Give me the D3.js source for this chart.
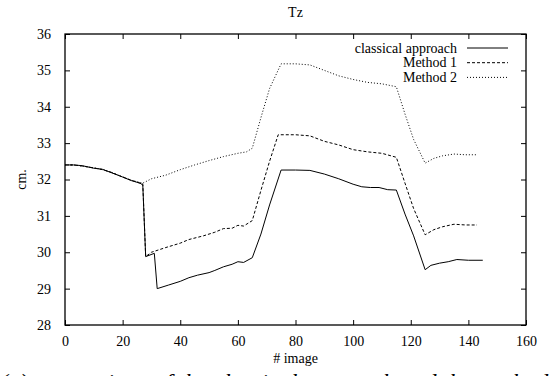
<!DOCTYPE html>
<html>
<head>
<meta charset="utf-8">
<script src="https://cdn.jsdelivr.net/npm/d3@7"></script>
<style>
  body { margin: 0; background: #fff; }
  text { font-family: "Liberation Serif", "Times New Roman", serif; }
</style>
</head>
<body>
<div id="chart"></div>
<script>
// values
var classicalX = [0, 3, 6, 10, 13, 16, 19, 23, 26, 27, 28, 31, 32, 36, 40, 43, 46, 50, 52, 55, 58, 60, 62, 65, 68, 71, 75, 80, 85, 90, 95, 100, 103, 106, 109, 112, 115, 118, 121, 125, 127, 130, 133, 136, 140, 145];
var classicalY = [32.4, 32.4, 32.38, 32.31, 32.28, 32.19, 32.1, 31.97, 31.9, 31.85, 29.88, 29.97, 29.0, 29.1, 29.2, 29.3, 29.37, 29.44, 29.5, 29.6, 29.67, 29.74, 29.72, 29.85, 30.5, 31.3, 32.26, 32.26, 32.25, 32.15, 32.02, 31.87, 31.8, 31.78, 31.78, 31.72, 31.71, 31.05, 30.45, 29.52, 29.64, 29.7, 29.74, 29.8, 29.78, 29.78];

var method1X = [0, 3, 6, 10, 13, 16, 19, 23, 26, 27, 28, 30, 35, 40, 43, 48, 52, 55, 58, 60, 62, 65, 68, 71, 74, 80, 85, 90, 95, 100, 105, 110, 115, 118, 121, 125, 128, 131, 135, 139, 143];
var method1Y = [32.4, 32.4, 32.37, 32.32, 32.27, 32.2, 32.1, 31.98, 31.9, 31.88, 29.88, 30.0, 30.13, 30.25, 30.35, 30.45, 30.55, 30.65, 30.66, 30.74, 30.72, 30.87, 31.7, 32.5, 33.23, 33.23, 33.2, 33.05, 32.95, 32.82, 32.76, 32.72, 32.61, 31.9, 31.2, 30.48, 30.62, 30.7, 30.77, 30.75, 30.75];

var method2X = [0, 3, 6, 10, 13, 16, 19, 23, 26, 27, 30, 35, 40, 45, 50, 55, 60, 63, 65, 68, 71, 75, 80, 85, 90, 95, 100, 105, 110, 115, 118, 121, 125, 128, 131, 135, 139, 143];
var method2Y = [32.4, 32.4, 32.37, 32.32, 32.28, 32.2, 32.1, 31.98, 31.92, 31.9, 32.02, 32.12, 32.27, 32.4, 32.52, 32.63, 32.72, 32.76, 32.86, 33.7, 34.5, 35.18, 35.18, 35.15, 35.0, 34.85, 34.75, 34.67, 34.63, 34.55, 33.8, 33.1, 32.45, 32.58, 32.65, 32.7, 32.68, 32.68];

var xTicks = [0, 20, 40, 60, 80, 100, 120, 140, 160];
var yTicks = [28, 29, 30, 31, 32, 33, 34, 35, 36];
var seriesNames = ["classical approach", "Method 1", "Method 2"];

var W = 551, H = 376;
var margin = { top: 34, right: 25, bottom: 51, left: 65 },
    width = W - margin.left - margin.right,
    height = H - margin.top - margin.bottom;

var svg = d3.select("#chart").append("svg")
  .attr("width", W).attr("height", H);

var g = svg.append("g")
  .attr("transform", "translate(" + margin.left + "," + margin.top + ")");

var x = d3.scaleLinear().domain([0, 160]).range([0, width]);
var y = d3.scaleLinear().domain([28, 36]).range([height, 0]);

// ticks on all four sides, pointing inwards
g.append("g")
  .attr("transform", "translate(0," + height + ")")
  .call(d3.axisBottom(x).tickValues(xTicks).tickSizeInner(-5).tickSizeOuter(0).tickPadding(11))
  .call(function (a) { a.select(".domain").remove(); });
g.append("g")
  .call(d3.axisTop(x).tickValues(xTicks).tickSizeInner(-5).tickSizeOuter(0).tickFormat(""))
  .call(function (a) { a.select(".domain").remove(); });
g.append("g")
  .call(d3.axisLeft(y).tickValues(yTicks).tickSizeInner(-5).tickSizeOuter(0).tickPadding(14))
  .call(function (a) { a.select(".domain").remove(); });
g.append("g")
  .attr("transform", "translate(" + width + ",0)")
  .call(d3.axisRight(y).tickValues(yTicks).tickSizeInner(-5).tickSizeOuter(0).tickFormat(""))
  .call(function (a) { a.select(".domain").remove(); });

g.selectAll("g").attr("font-family", null);
g.selectAll(".tick line").attr("stroke", "#000");
g.selectAll(".tick text")
  .style("font-family", "'Liberation Serif', serif")
  .style("font-size", "14px")
  .attr("fill", "#000");

g.append("rect")
  .attr("width", width).attr("height", height)
  .attr("fill", "none").attr("stroke", "#000").attr("stroke-width", 1.3);

// lines
var styles = ["none", "3,2", "1,2"];
var series = [
  { name: seriesNames[0], xs: classicalX, ys: classicalY },
  { name: seriesNames[1], xs: method1X, ys: method1Y },
  { name: seriesNames[2], xs: method2X, ys: method2Y }
];

var line = d3.line()
  .x(function (d) { return x(d[0]); })
  .y(function (d) { return y(d[1]); });

series.forEach(function (s, i) {
  g.append("path")
    .attr("d", line(s.xs.map(function (v, j) { return [v, s.ys[j]]; })))
    .attr("fill", "none")
    .attr("stroke", "#000")
    .attr("stroke-width", 1)
    .attr("stroke-dasharray", styles[i]);
});

// legend
var lineLegend = g.selectAll(".lineLegend").data(series)
  .enter().append("g")
  .attr("class", "lineLegend")
  .attr("transform", function (d, i) { return "translate(" + (width - 69) + "," + (14 + i * 14.7) + ")"; });

lineLegend.append("text")
  .attr("text-anchor", "end")
  .attr("dy", "0.33em")
  .style("font-size", "14px")
  .text(function (d) { return d.name; });

lineLegend.append("line")
  .attr("x1", 10).attr("x2", 51)
  .attr("stroke", "#000")
  .attr("stroke-width", 1)
  .attr("stroke-dasharray", function (d, i) { return styles[i]; });

// title and axis labels
svg.append("text")
  .attr("x", margin.left + width / 2).attr("y", 17)
  .attr("text-anchor", "middle")
  .style("font-size", "14px")
  .text("Tz");

svg.append("text")
  .attr("transform", "translate(26," + (margin.top + height / 2) + ") rotate(-90)")
  .attr("text-anchor", "middle")
  .style("font-size", "14px")
  .text("cm.");

svg.append("text")
  .attr("x", margin.left + width / 2).attr("y", 363)
  .attr("text-anchor", "middle")
  .style("font-size", "14px")
  .text("# image");

// caption, cut by the bottom edge
svg.append("text")
  .attr("x", 0).attr("y", 390)
  .style("font-size", "24px")
  .style("font-style", "italic")
  .text("(a) comparison of the classical approach and the method");
</script>
</body>
</html>
